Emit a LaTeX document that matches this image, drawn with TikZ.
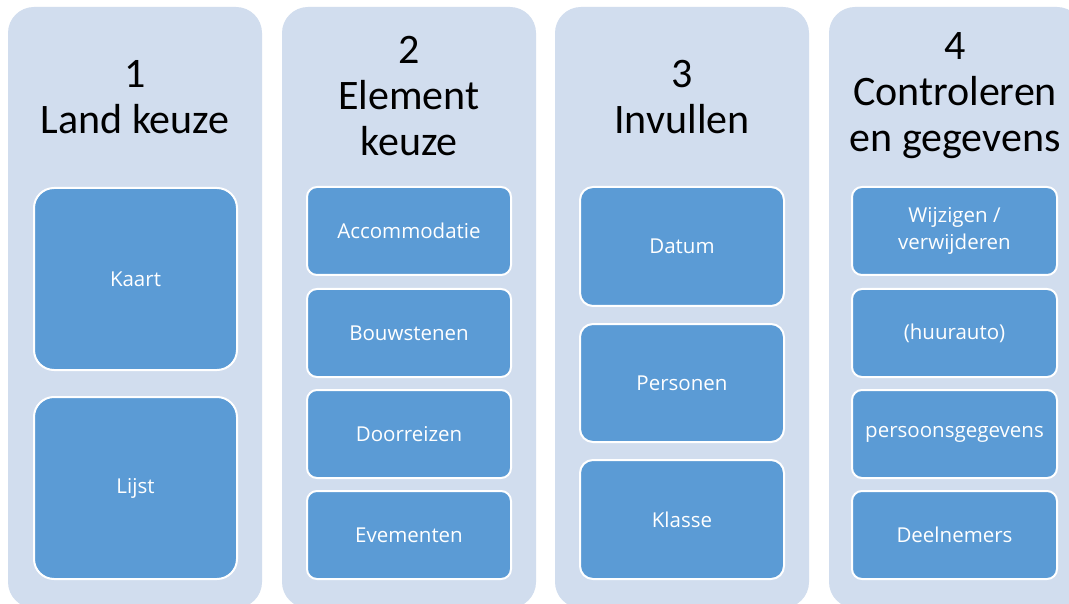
\documentclass[tikz,border=0pt]{standalone}
\usepackage{fontspec}
\setmainfont[Ligatures=NoCommon]{Carlito}
\newfontfamily\innerfont{Open Sans}
\definecolor{outerbg}{RGB}{209,221,238}
\definecolor{innerbg}{RGB}{91,155,213}
\tikzset{
  x=1pt, y=-1pt,
  column/.style={fill=outerbg, draw=none, rounded corners=26pt},
  title/.style={align=center, text=black, font=\fontsize{42}{46}\selectfont, inner sep=0pt},
  sbox/.style={fill=innerbg, draw=white, line width=2pt, rounded corners=10pt, text=white,
     align=center, font=\innerfont\fontsize{20.5}{27}\selectfont, inner sep=0pt},
  bigbox/.style={sbox, rounded corners=20pt},
  midbox/.style={sbox, rounded corners=13pt}
}
\begin{document}
\begin{tikzpicture}
\useasboundingbox (0,0) rectangle (1069,604);
\clip (0,0) rectangle (1069,604);
\fill[white] (0,0) rectangle (1069,604);
% columns
\fill[column] (8,7) rectangle (262,608);
\fill[column] (282,7) rectangle (536,608);
\fill[column] (555,7) rectangle (809,608);
\fill[column] (829,7) rectangle (1083,608);
% titles
\node[title] (t1) at (135,97) {1\\Land keuze};
\node[title] (t2) at (409,96) {2\\Element\\keuze};
\node[title] (t3) at (682,97) {3\\Invullen};
\node[title] (t4) at (955,96) {4\\Controleren\\en gegevens};
% column 1
\node[bigbox, minimum width=203pt, minimum height=182pt] (kaart) at (135.5,279) {Kaart};
\node[bigbox, minimum width=203pt, minimum height=182pt] (lijst) at (135.5,488) {Lijst};
% column 2
\node[sbox, minimum width=204pt, minimum height=88pt] (acc) at (409,231) {Accommodatie};
\node[sbox, minimum width=204pt, minimum height=88pt] (bouw) at (409,333) {Bouwstenen};
\node[sbox, minimum width=204pt, minimum height=88pt] (door) at (409,434) {Doorreizen};
\node[sbox, minimum width=204pt, minimum height=88pt] (evem) at (409,535) {Evementen};
% column 3
\node[midbox, minimum width=204pt, minimum height=119pt] (datum) at (682,246.5) {Datum};
\node[midbox, minimum width=204pt, minimum height=118pt] (pers) at (682,383) {Personen};
\node[midbox, minimum width=204pt, minimum height=119pt] (klasse) at (682,519.5) {Klasse};
% column 4
\node[sbox, minimum width=205pt, minimum height=88pt] (wijz) at (954.5,231) {Wijzigen /\\verwijderen};
\node[sbox, minimum width=205pt, minimum height=88pt] (huur) at (954.5,333) {(huurauto)};
\node[sbox, minimum width=205pt, minimum height=88pt] (persg) at (954.5,434) {persoonsgegevens};
\node[sbox, minimum width=205pt, minimum height=88pt] (deel) at (954.5,535) {Deelnemers};
\end{tikzpicture}
\end{document}
